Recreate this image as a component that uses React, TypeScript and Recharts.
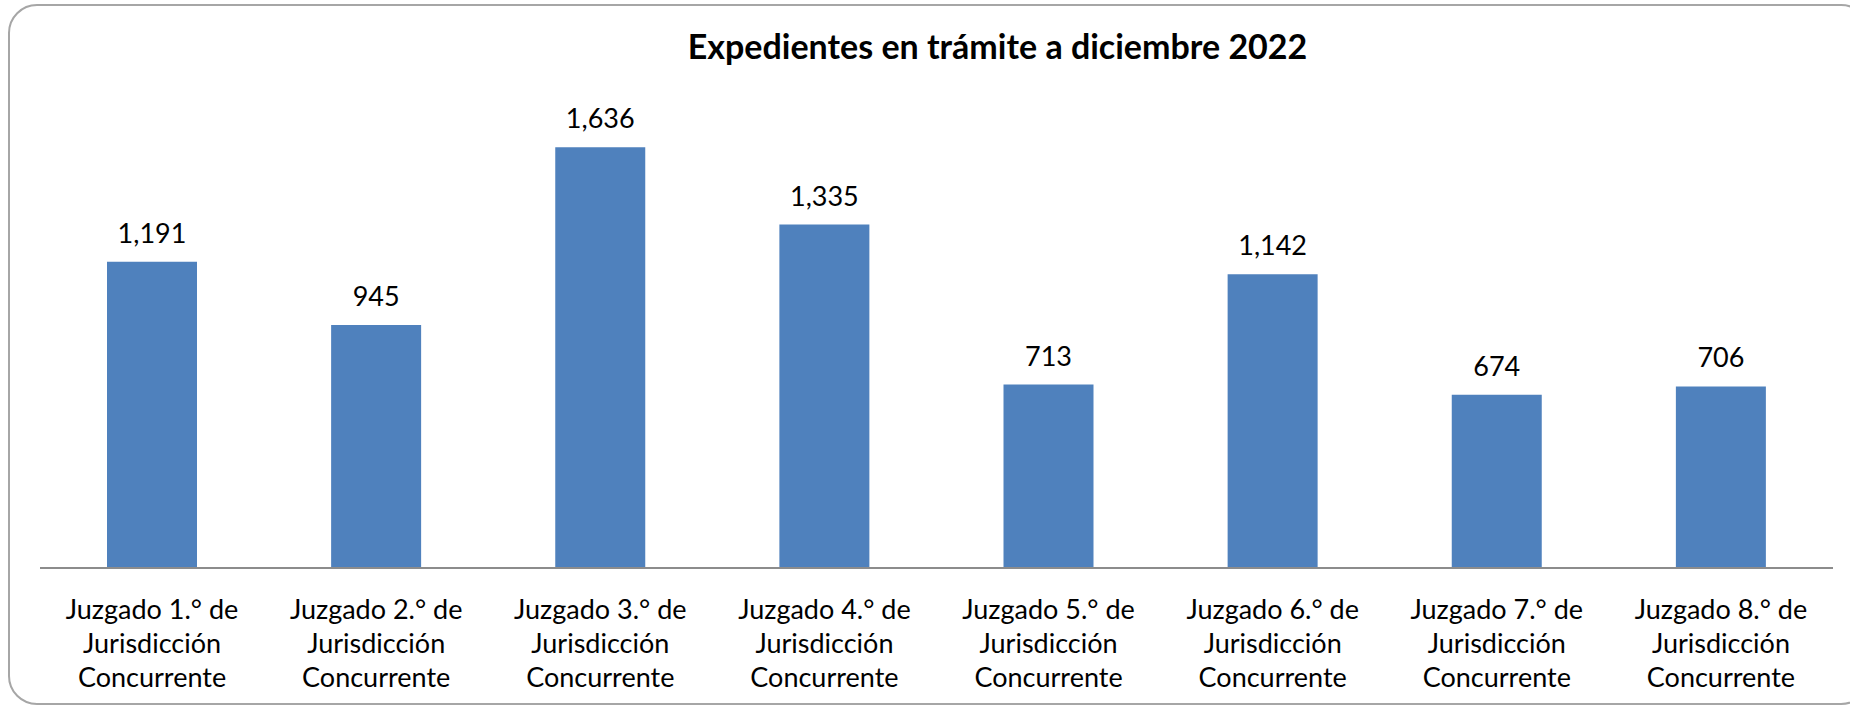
import React from 'react';
import { Bar, BarChart, LabelList, XAxis, YAxis } from 'recharts';

const courts = [
  'Juzgado 1.° de Jurisdicción Concurrente',
  'Juzgado 2.° de Jurisdicción Concurrente',
  'Juzgado 3.° de Jurisdicción Concurrente',
  'Juzgado 4.° de Jurisdicción Concurrente',
  'Juzgado 5.° de Jurisdicción Concurrente',
  'Juzgado 6.° de Jurisdicción Concurrente',
  'Juzgado 7.° de Jurisdicción Concurrente',
  'Juzgado 8.° de Jurisdicción Concurrente',
];
const pending = [1191, 945, 1636, 1335, 713, 1142, 674, 706];

const title = 'Expedientes en trámite a diciembre 2022';

const W = 1850;
const H = 708;
const font = 'Lato, "Open Sans", sans-serif';

const data = courts.map((name, i) => ({ name, value: pending[i] }));

function CourtTick({ x, y, payload }: { x?: number; y?: number; payload?: { value: string } }) {
  const words = (payload?.value ?? '').split(' ');
  const lines = [words.slice(0, 3).join(' '), words[3], words.slice(4).join(' ')];
  return (
    <text x={x} y={y} textAnchor="middle" fill="#000" fontFamily={font} fontSize={27}>
      {lines.map((l, i) => (
        <tspan key={i} x={x} y={(y ?? 0) + 49 + i * 34}>
          {l}
        </tspan>
      ))}
    </text>
  );
}

export default function App() {
  return (
    <div style={{ position: 'relative', width: W, height: H, background: '#fff' }}>
      <style>{'body{margin:0;overflow:hidden;background:#fff}'}</style>
      <BarChart
        width={W}
        height={H}
        data={data}
        margin={{ top: 105, right: 17, bottom: 0, left: 40 }}
        barSize={90}
      >
        <XAxis
          dataKey="name"
          height={140}
          interval={0}
          tickLine={false}
          tickSize={0}
          axisLine={{ stroke: '#8c8c8c', strokeWidth: 2 }}
          tick={<CourtTick />}
        />
        <YAxis hide domain={[0, 1800]} />
        <Bar dataKey="value" fill="#4f81bd" isAnimationActive={false}>
          <LabelList
            dataKey="value"
            position="top"
            offset={19}
            fill="#000"
            fontFamily={font}
            fontSize={27}
            formatter={(v: number) => v.toLocaleString('en-US')}
          />
        </Bar>
      </BarChart>
      <svg
        width={W}
        height={H}
        style={{ position: 'absolute', left: 0, top: 0, pointerEvents: 'none' }}
      >
        <rect x={9} y={5} width={1860} height={699} rx={28} ry={28} fill="none" stroke="#a6a6a6" strokeWidth={2} />
        <text
          x={997.5}
          y={59}
          textAnchor="middle"
          fontFamily={font}
          fontWeight="bold"
          fontSize={34}
          fill="#000"
        >
          {title}
        </text>
      </svg>
    </div>
  );
}
